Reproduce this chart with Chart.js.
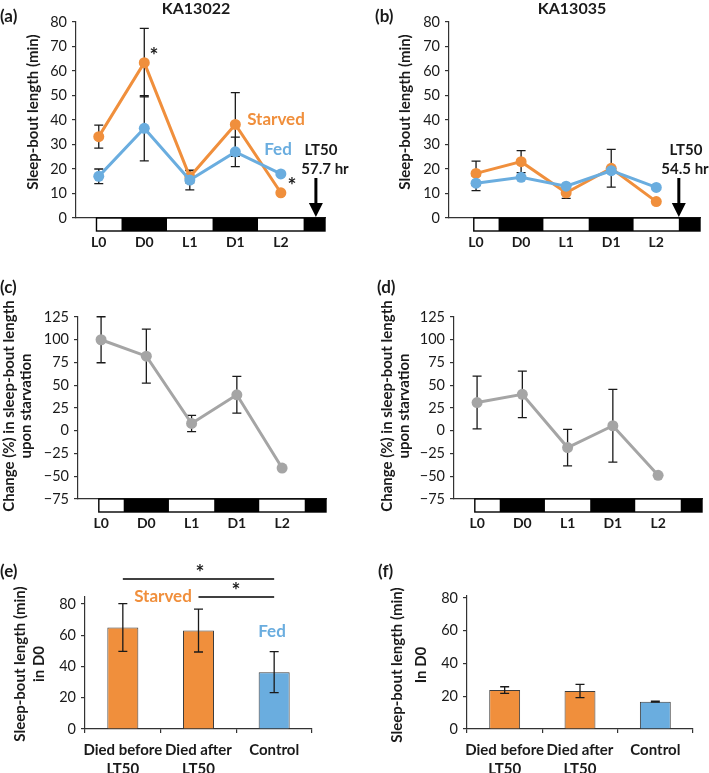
<!DOCTYPE html>
<html>
<head>
<meta charset="utf-8">
<script src="https://cdn.jsdelivr.net/npm/chart.js@4.4.1/dist/chart.umd.min.js"></script>
<style>
  html, body { margin: 0; padding: 0; background: #fff; }
  body { width: 709px; height: 773px; position: relative; overflow: hidden; }
  canvas { position: absolute; }
</style>
</head>
<body>
<canvas id="pa"></canvas>
<canvas id="pb"></canvas>
<canvas id="pc"></canvas>
<canvas id="pd"></canvas>
<canvas id="pe"></canvas>
<canvas id="pf"></canvas>
<script>
// ---- data ----
const phases = ['L0', 'D0', 'L1', 'D1', 'L2'];
const phaseEdges = [-0.05, 0.5, 1.5, 2.5, 3.5, 4.5, 4.97];
const phaseDark = [false, true, false, true, false, true];

// (a) KA13022, sleep-bout length (min)
const starvedA = [33.2, 63.4, 16.8, 38.2, 10.3];
const starvedAErr = [4.7, 14, 2.5, 13, 0];
const fedA = [17, 36.6, 15.5, 27, 18];
const fedAErr = [3, 13.3, 4, 6, 0];
const lt50A = 4.77;

// (b) KA13035
const starvedB = [18.2, 23, 10.3, 20.3, 6.7];
const starvedBErr = [5, 4.5, 2.3, 7.7, 0];
const fedB = [14.2, 16.6, 13, 19.3, 12.5];
const fedBErr = [3, 0, 0, 0, 0];
const lt50B = 4.5;

// (c), (d) change (%) upon starvation
const changeC = [100, 82, 8, 39.5, -41];
const changeCErr = [25.3, 29.7, 9, 20.2, 0];
const changeD = [31, 40, -18.5, 5.5, -49];
const changeDErr = [29, 25.5, 20, 40, 0];

// (e), (f) sleep-bout length in D0
const groups = [['Died before', 'LT50'], ['Died after', 'LT50'], 'Control'];
const boutE = [65, 63, 36.4];
const boutEErr = [15.3, 13.7, 13.1];
const boutF = [23.8, 23.2, 16.7];
const boutFErr = [2, 4.1, 0.3];

// ---- style ----
const ORANGE = '#F08F3C';
const BLUE = '#6AADDF';
const GREY = '#A5A5A5';
const INK = '#1a1a1a';
const FONT = 'Lato, "Open Sans", sans-serif';

Chart.defaults.font.family = FONT;
Chart.defaults.color = INK;
Chart.defaults.animation = false;

// texts and shapes are given in page coordinates and shifted by the panel box
const decor = {
  id: 'decor',
  beforeDatasetsDraw(chart, args, opts) {
    if (opts.errorsBelow) drawErrors(chart);
  },
  afterDatasetsDraw(chart, args, opts) {
    if (!opts.errorsBelow) drawErrors(chart);
  },
  afterDraw(chart, args, opts) {
    const ctx = chart.ctx;
    const box = opts.box;
    const x = chart.scales.x;
    const area = chart.chartArea;
    ctx.save();
    ctx.translate(-box.l, -box.t);

    if (opts.phaseBar) {
      const top = area.bottom + box.t;
      for (let i = 0; i < phaseDark.length; i++) {
        const x1 = x.getPixelForValue(phaseEdges[i]) + box.l;
        const x2 = x.getPixelForValue(phaseEdges[i + 1]) + box.l;
        ctx.fillStyle = phaseDark[i] ? '#000' : '#fff';
        ctx.fillRect(x1, top, x2 - x1, 13);
      }
      const xs = x.getPixelForValue(phaseEdges[0]) + box.l;
      const xe = x.getPixelForValue(phaseEdges[phaseEdges.length - 1]) + box.l;
      ctx.strokeStyle = '#000';
      ctx.lineWidth = 1.4;
      ctx.strokeRect(xs, top, xe - xs, 13);
    }

    if (opts.arrow) {
      const ax = x.getPixelForValue(opts.arrow.at) + box.l;
      const tip = area.bottom + box.t - 1;
      ctx.strokeStyle = '#000';
      ctx.fillStyle = '#000';
      ctx.lineWidth = 3;
      ctx.beginPath();
      ctx.moveTo(ax, opts.arrow.from);
      ctx.lineTo(ax, tip - 10);
      ctx.stroke();
      ctx.beginPath();
      ctx.moveTo(ax - 7, tip - 14);
      ctx.lineTo(ax + 7, tip - 14);
      ctx.lineTo(ax, tip);
      ctx.closePath();
      ctx.fill();
    }

    (opts.sig || []).forEach(function(s) {
      const x1 = x.getPixelForValue(s.from) + box.l;
      const x2 = x.getPixelForValue(s.to) + box.l;
      ctx.strokeStyle = '#000';
      ctx.lineWidth = 1.5;
      ctx.beginPath();
      ctx.moveTo(x1, s.y);
      ctx.lineTo(x2, s.y);
      ctx.stroke();
    });

    (opts.texts || []).forEach(function(t) {
      ctx.save();
      ctx.font = 'bold ' + (t.size || 14.5) + 'px ' + FONT;
      ctx.fillStyle = t.color || INK;
      ctx.textAlign = t.align || 'center';
      ctx.textBaseline = 'middle';
      ctx.translate(t.x, t.y);
      if (t.rot) ctx.rotate(-Math.PI / 2);
      ctx.fillText(t.s, 0, 0);
      ctx.restore();
    });
    ctx.restore();
  }
};

function drawErrors(chart) {
  const ctx = chart.ctx;
  const y = chart.scales.y;
  ctx.save();
  ctx.strokeStyle = INK;
  ctx.lineWidth = 1.3;
  chart.data.datasets.forEach(function(ds, i) {
    if (!ds.errors) return;
    const meta = chart.getDatasetMeta(i);
    meta.data.forEach(function(el, j) {
      const e = ds.errors[j];
      if (!e) return;
      const v = meta.controller.getParsed(j).y;
      const top = y.getPixelForValue(v + e);
      const bot = y.getPixelForValue(v - e);
      const cx = el.x;
      ctx.beginPath();
      ctx.moveTo(cx, top); ctx.lineTo(cx, bot);
      ctx.moveTo(cx - 4.5, top); ctx.lineTo(cx + 4.5, top);
      ctx.moveTo(cx - 4.5, bot); ctx.lineTo(cx + 4.5, bot);
      ctx.stroke();
    });
  });
  ctx.restore();
}

function setup(id, box, area) {
  const cv = document.getElementById(id);
  cv.width = box.w;
  cv.height = box.h;
  cv.style.left = box.l + 'px';
  cv.style.top = box.t + 'px';
  return {
    padding: { left: 0, top: area.t - box.t, right: box.l + box.w - area.r, bottom: 0 },
    yWidth: area.l - box.l,
    xHeight: box.t + box.h - area.b
  };
}

function yAxis(min, max, step, width) {
  return {
    min: min, max: max,
    afterFit(s) { s.width = width; },
    afterBuildTicks(s) {
      const ticks = [];
      for (let v = Math.ceil(min / step) * step; v <= max; v += step) ticks.push({ value: v });
      s.ticks = ticks;
    },
    ticks: {
      padding: 5,
      font: { size: 14.5 },
      color: INK,
      callback(v) { return String(v).replace('-', '\u2212'); }
    },
    grid: { drawOnChartArea: false, drawTicks: true, tickLength: 4, color: '#333', lineWidth: 1.2 },
    border: { display: true, color: '#333', width: 1.2 }
  };
}

function phaseAxis(min, height) {
  return {
    type: 'linear',
    min: min, max: 4.97,
    afterFit(s) { s.height = height; },
    afterBuildTicks(s) {
      s.ticks = phases.map(function(p, i) { return { value: i }; });
    },
    ticks: {
      autoSkip: false, maxRotation: 0, padding: 16,
      font: { size: 14, weight: 'bold' },
      color: INK,
      callback(v) { return phases[v]; }
    },
    grid: { display: false, drawTicks: false },
    border: { display: true, color: '#333', width: 1.2 }
  };
}

function linePanel(id, box, area, xmin, ymin, ymax, step, sets, decorOpts) {
  const L = setup(id, box, area);
  decorOpts.box = box;
  decorOpts.phaseBar = true;
  decorOpts.errorsBelow = true;
  return new Chart(document.getElementById(id), {
    type: 'line',
    data: {
      datasets: sets.map(function(s) {
        return {
          label: s.label,
          data: s.data.map(function(v, i) { return { x: i, y: v }; }),
          errors: s.errors,
          borderColor: s.color, backgroundColor: s.color,
          borderWidth: 3, pointRadius: 5.5, pointBorderWidth: 0,
          pointBackgroundColor: s.color, tension: 0
        };
      })
    },
    options: {
      responsive: false,
      devicePixelRatio: 1,
      layout: { padding: L.padding },
      plugins: { legend: { display: false }, tooltip: { enabled: false }, decor: decorOpts },
      scales: {
        x: phaseAxis(xmin, L.xHeight),
        y: yAxis(ymin, ymax, step, L.yWidth)
      }
    },
    plugins: [decor]
  });
}

function barPanel(id, box, area, ymax, values, errors, decorOpts) {
  const L = setup(id, box, area);
  decorOpts.box = box;
  return new Chart(document.getElementById(id), {
    type: 'bar',
    data: {
      labels: groups,
      datasets: [{
        data: values, errors: errors,
        backgroundColor: [ORANGE, ORANGE, BLUE],
        borderColor: '#3d3d3d', borderWidth: 1,
        categoryPercentage: 1, barPercentage: 0.41
      }]
    },
    options: {
      responsive: false,
      devicePixelRatio: 1,
      layout: { padding: L.padding },
      plugins: { legend: { display: false }, tooltip: { enabled: false }, decor: decorOpts },
      scales: {
        x: {
          afterFit(s) { s.height = L.xHeight; },
          ticks: { padding: 8, font: { size: 15, weight: 'bold', lineHeight: 1.25 }, color: INK, maxRotation: 0, autoSkip: false },
          grid: { offset: true, drawOnChartArea: false, tickLength: 4, color: '#333', lineWidth: 1.2 },
          border: { display: true, color: '#333', width: 1.2 }
        },
        y: yAxis(0, ymax, 20, L.yWidth)
      }
    },
    plugins: [decor]
  });
}

linePanel('pa', { l: 0, t: 0, w: 354, h: 252 }, { l: 76, t: 22, r: 325, b: 218 }, -0.5, 0, 80, 10, [
  { label: 'Fed', data: fedA, errors: fedAErr, color: BLUE },
  { label: 'Starved', data: starvedA, errors: starvedAErr, color: ORANGE }
], {
  arrow: { at: lt50A, from: 178 },
  texts: [
    { s: '(a)', x: 0, y: 17, align: 'left', size: 17 },
    { s: 'KA13022', x: 196, y: 9, size: 16 },
    { s: 'Starved', x: 276, y: 120, size: 17, color: ORANGE },
    { s: 'Fed', x: 278, y: 150, size: 17, color: BLUE },
    { s: 'LT50', x: 321, y: 150, size: 15 },
    { s: '57.7 hr', x: 325, y: 169, size: 15 },
    { s: '*', x: 154, y: 56, size: 21 },
    { s: '*', x: 292, y: 186, size: 21 },
    { s: 'Sleep-bout length (min)', x: 33, y: 112, size: 15, rot: true }
  ]
});

linePanel('pb', { l: 354, t: 0, w: 355, h: 252 }, { l: 449, t: 22, r: 700, b: 218 }, -0.6, 0, 80, 10, [
  { label: 'Fed', data: fedB, errors: fedBErr, color: BLUE },
  { label: 'Starved', data: starvedB, errors: starvedBErr, color: ORANGE }
], {
  arrow: { at: lt50B, from: 178 },
  texts: [
    { s: '(b)', x: 375, y: 17, align: 'left', size: 17 },
    { s: 'KA13035', x: 572, y: 9, size: 16 },
    { s: 'LT50', x: 686, y: 150, size: 15 },
    { s: '54.5 hr', x: 685, y: 169, size: 15 },
    { s: 'Sleep-bout length (min)', x: 405, y: 112, size: 15, rot: true }
  ]
});

linePanel('pc', { l: 0, t: 252, w: 354, h: 278 }, { l: 78, t: 317, r: 326, b: 499 }, -0.51, -75, 125, 25, [
  { label: 'Change', data: changeC, errors: changeCErr, color: GREY }
], {
  texts: [
    { s: '(c)', x: 0, y: 288, align: 'left', size: 17 },
    { s: 'Change (%) in sleep-bout length', x: 9, y: 406, size: 15, rot: true },
    { s: 'upon starvation', x: 26, y: 406, size: 15, rot: true }
  ]
});

linePanel('pd', { l: 354, t: 252, w: 355, h: 278 }, { l: 454, t: 317, r: 702, b: 499 }, -0.51, -75, 125, 25, [
  { label: 'Change', data: changeD, errors: changeDErr, color: GREY }
], {
  texts: [
    { s: '(d)', x: 377, y: 288, align: 'left', size: 17 },
    { s: 'Change (%) in sleep-bout length', x: 387, y: 406, size: 15, rot: true },
    { s: 'upon starvation', x: 404, y: 406, size: 15, rot: true }
  ]
});

barPanel('pe', { l: 0, t: 530, w: 354, h: 243 }, { l: 85, t: 597, r: 312, b: 729 }, 84.5, boutE, boutEErr, {
  sig: [{ from: 0, to: 2, y: 579 }, { from: 1, to: 2, y: 597 }],
  texts: [
    { s: '(e)', x: 0, y: 572, align: 'left', size: 17 },
    { s: '*', x: 200, y: 573, size: 21 },
    { s: '*', x: 236, y: 591, size: 21 },
    { s: 'Starved', x: 163, y: 597, size: 17, color: ORANGE },
    { s: 'Fed', x: 272, y: 632, size: 17, color: BLUE },
    { s: 'Sleep-bout length (min)', x: 20, y: 664, size: 15, rot: true },
    { s: 'in D0', x: 39, y: 664, size: 15, rot: true }
  ]
});

barPanel('pf', { l: 354, t: 530, w: 355, h: 243 }, { l: 467, t: 596, r: 693, b: 729 }, 81.2, boutF, boutFErr, {
  texts: [
    { s: '(f)', x: 378, y: 572, align: 'left', size: 17 },
    { s: 'Sleep-bout length (min)', x: 397, y: 665, size: 15, rot: true },
    { s: 'In D0', x: 421, y: 665, size: 15, rot: true }
  ]
});
</script>
</body>
</html>
